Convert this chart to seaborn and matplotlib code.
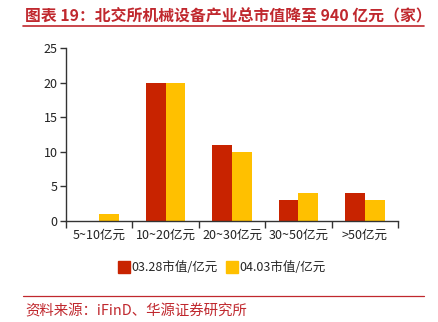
import matplotlib
matplotlib.use("Agg")
import matplotlib.pyplot as plt
import seaborn as sns
import pandas as pd
from matplotlib.lines import Line2D

categories = ["5~10亿元", "10~20亿元", "20~30亿元", "30~50亿元", ">50亿元"]
series_names = ["03.28市值/亿元", "04.03市值/亿元"]
values_0328 = [0, 20, 11, 3, 4]
values_0403 = [1, 20, 10, 4, 3]
colors = ["#C82300", "#FFC000"]
yticks = [0, 5, 10, 15, 20, 25]

sns.set_style("white")
plt.rcParams['font.family'] = ['Noto Sans CJK SC', 'DejaVu Sans']

df = pd.DataFrame({
    "cat": categories * 2,
    "series": [series_names[0]] * 5 + [series_names[1]] * 5,
    "val": values_0328 + values_0403,
})

fig = plt.figure(figsize=(4.39, 3.22), dpi=100)
ax = fig.add_axes([0.150, 0.314, 0.757, 0.537])
sns.barplot(data=df, x="cat", y="val", hue="series", palette=colors,
            width=0.6, ax=ax, legend=False, saturation=1, linewidth=0)

ax.set_xlim(-0.5, 4.5)
ax.set_ylim(0, 25)
ax.set_yticks(yticks)
ax.set_xlabel("")
ax.set_ylabel("")
for s in ["top", "right"]:
    ax.spines[s].set_visible(False)
for s in ["left", "bottom"]:
    ax.spines[s].set_color("#333333")
    ax.spines[s].set_linewidth(1.0)
ax.tick_params(axis="y", which="major", direction="out", length=4, width=1,
               color="#333333", labelsize=9, pad=2, left=True)
ax.tick_params(axis="x", which="major", length=0, labelsize=9, pad=6)
ax.set_xticks([i - 0.5 for i in range(6)], minor=True)
ax.tick_params(axis="x", which="minor", direction="out", length=5, width=1,
               color="#333333", bottom=True)
for lab in ax.get_xticklabels() + ax.get_yticklabels():
    lab.set_color("#222222")

handles = [Line2D([0], [0], marker="s", linestyle="", markersize=8,
                  markerfacecolor=c, markeredgecolor=c) for c in colors]
fig.legend(handles, series_names, loc="center", bbox_to_anchor=(0.505, 0.168),
           ncol=2, frameon=False, fontsize=9, handletextpad=0.1,
           columnspacing=0.6, handlelength=1.0)

title_color = "#C0282E"
fig.text(0.057, 0.953, "图表 19：北交所机械设备产业总市值降至 940 亿元（家）",
         fontsize=11.4, color=title_color, fontweight="bold", va="center", ha="left")
fig.add_artist(Line2D([0.053, 0.965], [0.918, 0.918], color=title_color, linewidth=1.2,
                      transform=fig.transFigure))
fig.add_artist(Line2D([0.053, 0.965], [0.081, 0.081], color=title_color, linewidth=0.9,
                      transform=fig.transFigure))
fig.text(0.057, 0.032, "资料来源：iFinD、华源证券研究所", fontsize=10.4,
         color=title_color, va="center", ha="left")

fig.savefig("out.png", dpi=100)
